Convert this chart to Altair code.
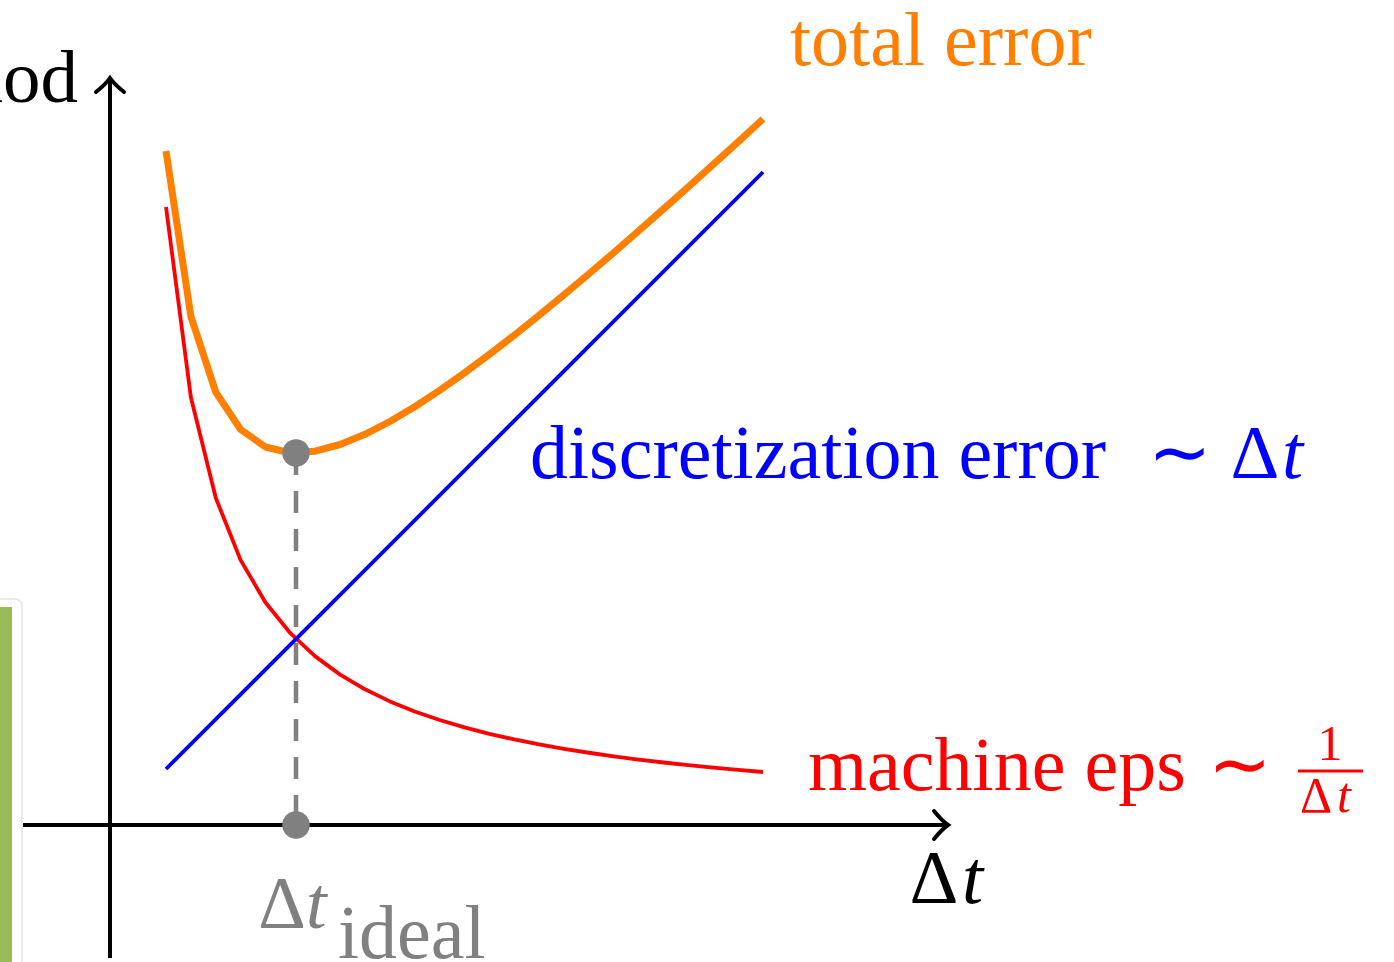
import altair as alt
import pandas as pd

# Sampled step sizes (25 samples) and the two error contributions
dt = [0.56, 0.80875, 1.0575, 1.30625, 1.555, 1.80375, 2.0525, 2.30125, 2.55,
      2.79875, 3.0475, 3.29625, 3.545, 3.79375, 4.0425, 4.29125, 4.54, 4.78875,
      5.0375, 5.28625, 5.535, 5.78375, 6.0325, 6.28125, 6.53]
machine_eps = [6.179, 4.278, 3.272, 2.649, 2.225, 1.918, 1.686, 1.504, 1.357,
               1.236, 1.135, 1.050, 0.976, 0.912, 0.856, 0.806, 0.762, 0.7225,
               0.687, 0.6545, 0.625, 0.598, 0.5736, 0.551, 0.530]
total_error = [6.739, 5.087, 4.329, 3.955, 3.780, 3.722, 3.738, 3.805, 3.907,
               4.035, 4.183, 4.346, 4.521, 4.706, 4.898, 5.097, 5.302, 5.511,
               5.724, 5.941, 6.160, 6.382, 6.606, 6.832, 7.060]
disc_dt = [0.56, 6.53]
disc_err = [0.56, 6.53]

dt_ideal = 1.86
err_ideal = 3.72

W, H = 1394, 962
XS = alt.Scale(domain=[-1.10, 12.84], nice=False, zero=False)
YS = alt.Scale(domain=[-1.37, 8.25], nice=False, zero=False)
SERIF = "Liberation Serif"

ORANGE = "#FF8000"
RED = "#FF0000"
BLUE = "#0000FF"
GRAY = "#808080"


def xy(df, xf="x", yf="y"):
    return dict(x=alt.X(f"{xf}:Q", scale=XS, axis=None),
                y=alt.Y(f"{yf}:Q", scale=YS, axis=None))


def curve(xs, ys, color, width):
    df = pd.DataFrame({"x": xs, "y": ys})
    return alt.Chart(df).mark_line(color=color, strokeWidth=width,
                                   strokeJoin="round").encode(**xy(df))


def rule(x, y, x2, y2, color, width, dash=None):
    df = pd.DataFrame({"x": [x], "y": [y], "x2": [x2], "y2": [y2]})
    kw = dict(color=color, strokeWidth=width)
    if dash:
        kw["strokeDash"] = dash
    return alt.Chart(df).mark_rule(**kw).encode(
        **xy(df), x2="x2:Q", y2="y2:Q")


def label(text, x, y, color, size, italic=False, align="left"):
    df = pd.DataFrame({"x": [x], "y": [y], "t": [text]})
    return alt.Chart(df).mark_text(
        align=align, baseline="alphabetic", font=SERIF, fontSize=size,
        fontStyle="italic" if italic else "normal", color=color
    ).encode(**xy(df), text="t:N")


def arrow_head(x, y, angle):
    df = pd.DataFrame({"x": [x], "y": [y]})
    return alt.Chart(df).mark_point(
        shape="M -1 -1 C -0.55 -0.45 -0.15 -0.1 0 0 C -0.15 0.1 -0.55 0.45 -1 1",
        filled=False, stroke="black", strokeWidth=4, size=784, angle=angle,
        opacity=1, strokeCap="round"
    ).encode(**xy(df))


# side panel on the left edge
panel_df = pd.DataFrame({"x": [-1.2], "x2": [-0.88], "y": [-1.5], "y2": [2.26]})
panel = alt.Chart(panel_df).mark_rect(
    fill="white", stroke="#e4e4e4", strokeWidth=1.5, cornerRadius=7
).encode(**xy(panel_df), x2="x2:Q", y2="y2:Q")
green_df = pd.DataFrame({"x": [-1.2], "x2": [-0.98], "y": [-1.5], "y2": [2.18]})
green = alt.Chart(green_df).mark_rect(fill="#9BBB59").encode(
    **xy(green_df), x2="x2:Q", y2="y2:Q")

# axes with arrow tips
x_axis = rule(-0.87, 0, 8.36, 0, "black", 4)
y_axis = rule(0, -1.33, 0, 7.45, "black", 4)
x_tip = arrow_head(8.38, 0, 0)
y_tip = arrow_head(0, 7.47, 270)

# optimum marker
drop = rule(dt_ideal, err_ideal, dt_ideal, 0, GRAY, 4.5, dash=[22, 16])
dots_df = pd.DataFrame({"x": [dt_ideal, dt_ideal], "y": [err_ideal, 0]})
dots = alt.Chart(dots_df).mark_point(
    shape="circle", filled=True, color=GRAY, size=760, opacity=1
).encode(**xy(dots_df))

red_line = curve(dt, machine_eps, RED, 3.8)
blue_line = curve(disc_dt, disc_err, BLUE, 3.8)
orange_line = curve(dt, total_error, ORANGE, 7)

texts = [
    label("error of method", -0.32, 7.23, "black", 75, align="right"),
    label("total error", 6.80, 7.60, ORANGE, 76),
    label("discretization error", 4.20, 3.47, BLUE, 76),
    label("\u223C", 10.70, 3.47, BLUE, 76, align="center"),
    label("\u0394", 11.45, 3.47, BLUE, 76, align="center"),
    label("t", 11.72, 3.47, BLUE, 76, italic=True),
    label("machine eps", 6.98, 0.35, RED, 76),
    label("\u223C", 11.30, 0.35, RED, 76, align="center"),
    label("1", 12.20, 0.65, RED, 50, align="center"),
    rule(11.88, 0.54, 12.53, 0.54, RED, 3),
    label("\u0394", 12.06, 0.13, RED, 50, align="center"),
    label("t", 12.27, 0.13, RED, 50, italic=True),
    label("\u0394", 8.24, -0.78, "black", 76, align="center"),
    label("t", 8.52, -0.78, "black", 76, italic=True),
    label("\u0394", 1.72, -1.03, GRAY, 74, align="center"),
    label("t", 1.96, -1.03, GRAY, 74, italic=True),
    label("ideal", 2.28, -1.33, GRAY, 76),
]

chart = alt.layer(
    panel, green, x_axis, y_axis, x_tip, y_tip, drop,
    red_line, blue_line, orange_line, dots, *texts
).properties(
    width=W, height=H, autosize=alt.AutoSizeParams(type="none"), padding=0,
    background="white"
).configure_view(stroke=None)

chart.save("out.html", embed_options={"renderer": "svg", "actions": False})
